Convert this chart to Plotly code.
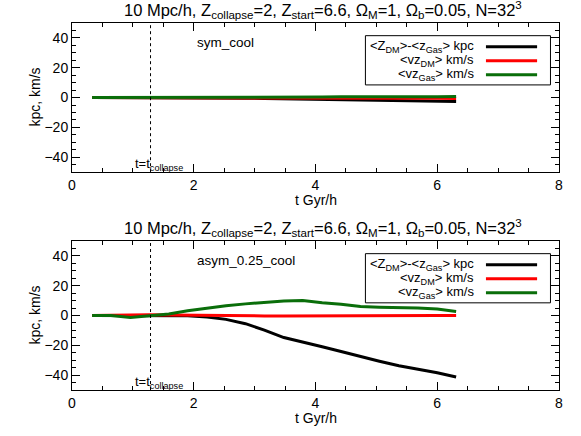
import plotly.graph_objects as go

t = [0.33, 0.64, 0.96, 1.27, 1.59, 1.90, 2.22, 2.53, 2.85, 3.16,
     3.48, 3.79, 4.11, 4.42, 4.74, 5.05, 5.37, 5.68, 6.00, 6.31]

sym_dz = [0, 0, 0, 0, 0, 0, 0, -0.1, -0.4, -0.6, -0.8, -1.0, -1.1, -1.3, -1.5, -1.7, -1.9, -2.1, -2.3, -2.6]
sym_vdm = [0, 0, 0, 0, 0, 0, -0.1, -0.3, -0.2, -0.1, 0, 0, -0.1, -0.1, -0.2, -0.2, -0.3, -0.4, -0.5, -0.6]
sym_vgas = [0, 0, 0, 0, 0, 0, 0.1, 0.2, 0.3, 0.4, 0.5, 0.3, 0.4, 0.6, 0.5, 0.4, 0.3, 0.4, 0.5, 0.7]

asym_dz = [0, 0, 0, 0, 0, -0.2, -1.0, -2.6, -5.5, -9.8, -14.8, -17.7, -21.0, -24.2, -27.6, -30.7, -33.7, -35.9, -38.4, -41.3]
asym_vdm = [0, 0.3, 0.6, 0.5, 0.3, 0.1, 0, -0.1, -0.2, -0.3, -0.4, -0.3, -0.2, -0.1, 0, 0, 0, 0, 0, 0]
asym_vgas = [0, 0, -1.3, -0.2, 1.0, 3.2, 5.0, 6.5, 7.8, 8.8, 9.8, 10.0, 8.5, 7.6, 6.0, 5.6, 5.4, 5.0, 4.3, 2.7]

panel_labels = ["sym_cool", "asym_0.25_cool"]
legend_labels = ["&lt;Z<sub>DM</sub>&gt;-&lt;z<sub>Gas</sub>&gt; kpc",
                 "&lt;vz<sub>DM</sub>&gt; km/s",
                 "&lt;vz<sub>Gas</sub>&gt; km/s"]
colors = ["#000000", "#ff0000", "#0a6e0a"]
t_collapse = 1.29
title_text = ("10 Mpc/h, Z<sub>collapse</sub>=2, Z<sub>start</sub>=6.6, "
              "Ω<sub>M</sub>=1, Ω<sub>b</sub>=0.05, N=32<sup>3</sup>")
x_title = "t Gyr/h"
y_title = "kpc, km/s"

FONT = "Liberation Sans, Arial, Helvetica, sans-serif"

fig = go.Figure()
panels = [(sym_dz, sym_vdm, sym_vgas), (asym_dz, asym_vdm, asym_vgas)]
axnames = [("x", "y"), ("x2", "y2")]
for (series, (xa, ya)) in zip(panels, axnames):
    for s, c in zip(series, colors):
        fig.add_trace(go.Scatter(x=t, y=s, mode="lines", xaxis=xa, yaxis=ya,
                                 line=dict(color=c, width=3), showlegend=False,
                                 hoverinfo="skip"))

common_x = dict(range=[0, 8], dtick=2, tick0=0, showgrid=False, zeroline=False,
                showline=True, linecolor="black", linewidth=1, mirror="ticks",
                ticks="inside", ticklen=8, tickcolor="black", automargin=False,
                minor=dict(ticks="inside", ticklen=4, dtick=0.5, tickcolor="black"),
                tickfont=dict(family=FONT, size=14, color="black"))
common_y = dict(range=[-50, 50], dtick=20, tick0=-40, showgrid=False, zeroline=False,
                showline=True, linecolor="black", linewidth=1, mirror="ticks",
                ticks="inside", ticklen=8, tickcolor="black", automargin=False,
                minor=dict(ticks="inside", ticklen=4, dtick=5, tickcolor="black"),
                tickfont=dict(family=FONT, size=14, color="black"))

domains = [[0.5935, 1.0], [0.0, 0.406]]
fig.update_layout(
    width=581, height=436,
    margin=dict(l=72, r=22, t=23, b=46, autoexpand=False),
    paper_bgcolor="white", plot_bgcolor="white",
    xaxis=dict(common_x, domain=[0, 1], anchor="y"),
    yaxis=dict(common_y, domain=domains[0], anchor="x"),
    xaxis2=dict(common_x, domain=[0, 1], anchor="y2"),
    yaxis2=dict(common_y, domain=domains[1], anchor="x2"),
    showlegend=False,
    hovermode=False,
)

annotations = []
shapes = []
for i, (xa, ya) in enumerate(axnames):
    xref, yref = xa, ya
    ydom = domains[i]
    annotations.append(dict(text=title_text, xref="paper", yref="paper", x=0.5, y=ydom[1],
                            yshift=0, xshift=7, xanchor="center", yanchor="bottom", showarrow=False,
                            font=dict(family=FONT, size=16.5, color="black")))
    annotations.append(dict(text=x_title, xref="paper", yref="paper", x=0.5, y=ydom[0],
                            yshift=-28, xanchor="center", yanchor="middle", showarrow=False,
                            font=dict(family=FONT, size=14, color="black")))
    annotations.append(dict(text=y_title, xref="paper", yref="paper", x=0, y=(ydom[0] + ydom[1]) / 2,
                            xshift=-37, xanchor="center", yanchor="middle", showarrow=False,
                            textangle=-90, font=dict(family=FONT, size=14, color="black")))
    shapes.append(dict(type="line", xref=xref, yref=yref, x0=t_collapse, x1=t_collapse,
                       y0=-50, y1=50, line=dict(color="black", width=1, dash="dot")))
    annotations.append(dict(text="t=t<sub>collapse</sub>", xref=xref, yref=yref, x=1.0, y=-45.0,
                            xanchor="left", yanchor="middle", showarrow=False,
                            font=dict(family=FONT, size=13, color="black")))
    annotations.append(dict(text=panel_labels[i], xref=xref, yref=yref, x=2.02, y=37,
                            xanchor="left", yanchor="middle", showarrow=False,
                            font=dict(family=FONT, size=13.5, color="black")))
    shapes.append(dict(type="rect", xref=xref, yref=yref, x0=4.82, x1=7.86, y0=8.5, y1=41.5,
                       line=dict(color="black", width=1), fillcolor="white", layer="above"))
    for j, (lab, c) in enumerate(zip(legend_labels, colors)):
        yv = 34.1 - j * 9.4
        annotations.append(dict(text=lab, xref=xref, yref=yref, x=6.63, y=yv,
                                xanchor="right", yanchor="middle", showarrow=False,
                                font=dict(family=FONT, size=13, color="black")))
        shapes.append(dict(type="line", xref=xref, yref=yref, x0=6.80, x1=7.64, y0=yv, y1=yv,
                           line=dict(color=c, width=3), layer="above"))

fig.update_layout(annotations=annotations, shapes=shapes)
# remove the browser's default 8px body margin so the figure sits at the window's corner
fig.write_html("out.html", config={"displayModeBar": False},
               post_script="document.body.style.margin='0px';")
